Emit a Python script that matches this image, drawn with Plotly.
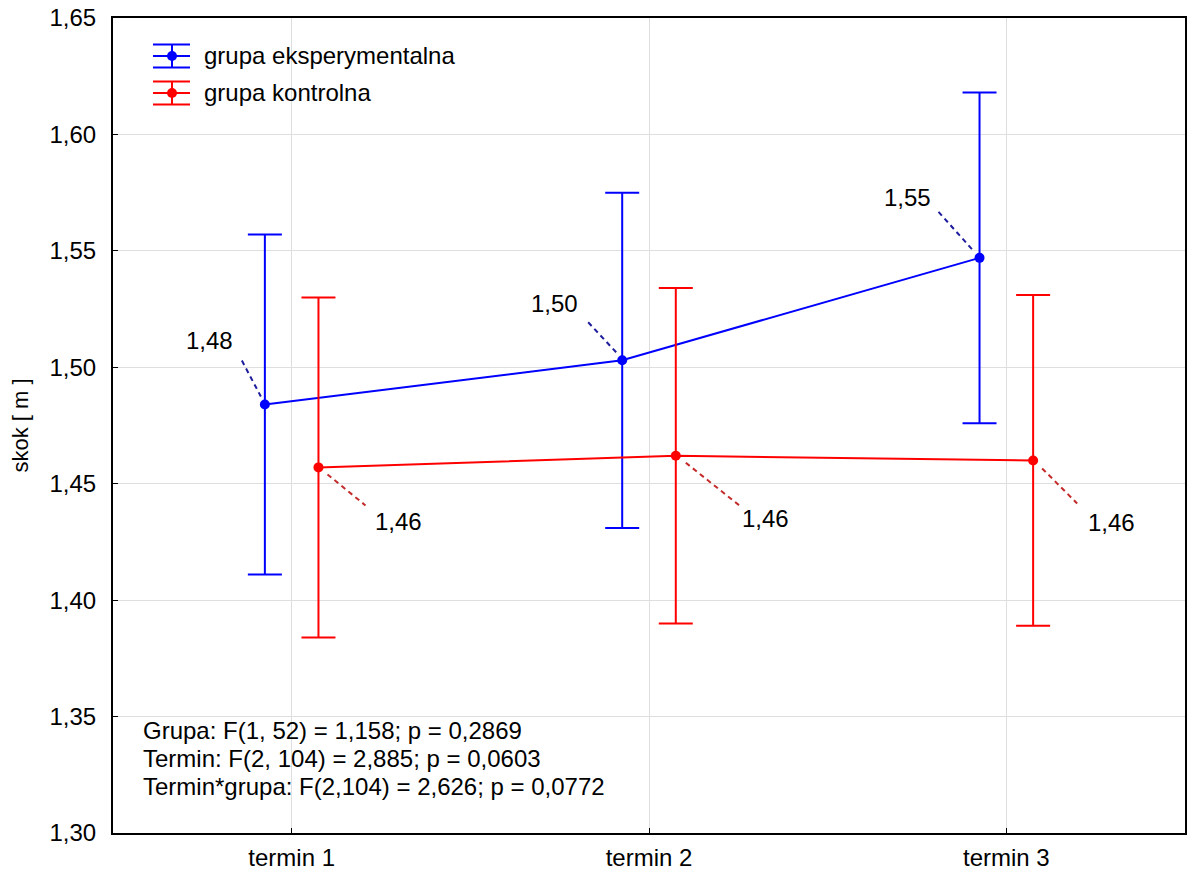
import plotly.graph_objects as go

# Mean jump height (m) with error bars, per measurement term and group
terms = ["termin 1", "termin 2", "termin 3"]
exp_mean = [1.484, 1.503, 1.547]
exp_err = [0.073, 0.072, 0.071]
ctrl_mean = [1.457, 1.462, 1.460]
ctrl_err = [0.073, 0.072, 0.071]
group_names = ["grupa eksperymentalna", "grupa kontrolna"]
stats_lines = [
    "Grupa: F(1, 52) = 1,158; p = 0,2869",
    "Termin: F(2, 104) = 2,885; p = 0,0603",
    "Termin*grupa: F(2,104) = 2,626; p = 0,0772",
]

BLUE = "#0000ff"
RED = "#ff0000"
BLUE_DASH = "#1c1c9c"
RED_DASH = "#c42a2a"
FONT = "Liberation Sans, Arial, sans-serif"
FS = 24
DODGE = 0.075

x_idx = list(range(len(terms)))
x_exp = [i - DODGE for i in x_idx]
x_ctrl = [i + DODGE for i in x_idx]

fig = go.Figure()
for xs, ys, errs, col in [(x_exp, exp_mean, exp_err, BLUE), (x_ctrl, ctrl_mean, ctrl_err, RED)]:
    fig.add_trace(go.Scatter(
        x=xs, y=ys, mode="lines+markers",
        line=dict(color=col, width=2),
        marker=dict(color=col, size=10),
        error_y=dict(type="data", array=errs, visible=True, color=col, thickness=2, width=17),
        showlegend=False, hoverinfo="skip",
    ))

def fmt(v):
    return f"{v:.2f}".replace(".", ",")

# value labels with dashed leaders (pixel offsets from each point)
exp_leader = [(-23, 44, -4, 8), (-34, 38, -6, 8), (-41, 46, -7, 8)]
exp_text = [(-55, 64), (-68, 57), (-72, 60)]
ctrl_leader = [(9, -7, 47, -38), (10, -7, 64, -50), (9, -8, 44, -43)]
ctrl_text = [(80, -54), (90, -63), (78, -62)]

shapes = []
annotations = []
for xs, ys, leaders, texts, dcol in [
    (x_exp, exp_mean, exp_leader, exp_text, BLUE_DASH),
    (x_ctrl, ctrl_mean, ctrl_leader, ctrl_text, RED_DASH),
]:
    for x, y, (lx0, ly0, lx1, ly1), (tx, ty) in zip(xs, ys, leaders, texts):
        shapes.append(dict(
            type="line", xref="x", yref="y",
            xsizemode="pixel", ysizemode="pixel", xanchor=x, yanchor=y,
            x0=lx0, y0=ly0, x1=lx1, y1=ly1,
            line=dict(color=dcol, width=2, dash="5px,4px"),
        ))
        annotations.append(dict(
            x=x, y=y, xref="x", yref="y", text=fmt(y), showarrow=False,
            xshift=tx, yshift=ty, font=dict(family=FONT, size=FS, color="black"),
        ))

# hand-drawn legend with error-bar glyphs
for k, (name, col) in enumerate(zip(group_names, [BLUE, RED])):
    cy = -38 - 37 * k
    common = dict(xref="paper", yref="paper", xsizemode="pixel", ysizemode="pixel",
                  xanchor=0, yanchor=1)
    for dy in (-11.5, 0, 11.5):
        shapes.append(dict(type="line", x0=40, x1=77, y0=cy + dy, y1=cy + dy,
                           line=dict(color=col, width=2), **common))
    shapes.append(dict(type="line", x0=59, x1=59, y0=cy - 11.5, y1=cy + 11.5,
                       line=dict(color=col, width=2), **common))
    shapes.append(dict(type="circle", x0=54, x1=64, y0=cy - 5, y1=cy + 5,
                       fillcolor=col, line=dict(color=col, width=0), **common))
    annotations.append(dict(
        x=0, y=1, xref="paper", yref="paper", xshift=89, yshift=cy + 1,
        xanchor="left", yanchor="middle", showarrow=False, text=name,
        font=dict(family=FONT, size=FS, color="black"),
    ))

# ANOVA summary, one line per annotation
for k, line in enumerate(stats_lines):
    annotations.append(dict(
        x=0, y=0, xref="paper", yref="paper", xshift=28, yshift=103 - 28 * k,
        xanchor="left", yanchor="middle", align="left", showarrow=False,
        text=line, font=dict(family=FONT, size=FS, color="black"),
    ))

axis_common = dict(
    showline=True, linecolor="black", linewidth=2, mirror=True,
    ticks="inside", ticklen=5, tickwidth=1, tickcolor="black",
    showgrid=True, gridcolor="#dedede", gridwidth=1, zeroline=False,
    tickfont=dict(family=FONT, size=FS, color="black"), automargin=False,
)

fig.update_layout(
    width=1190, height=872,
    margin=dict(l=113, r=5, t=18, b=39),
    paper_bgcolor="white", plot_bgcolor="white",
    separators=", ",
    shapes=shapes, annotations=annotations,
    xaxis=dict(range=[-0.5, 2.5], tickvals=x_idx, ticktext=terms,
               ticklabelstandoff=2, **axis_common),
    yaxis=dict(range=[1.30, 1.65], dtick=0.05, tickformat=".2f",
               ticklabelstandoff=10,
               title=dict(text="skok [ m ]", font=dict(family=FONT, size=22, color="black"),
                          standoff=15),
               **axis_common),
)

fig.write_html("out.html")
